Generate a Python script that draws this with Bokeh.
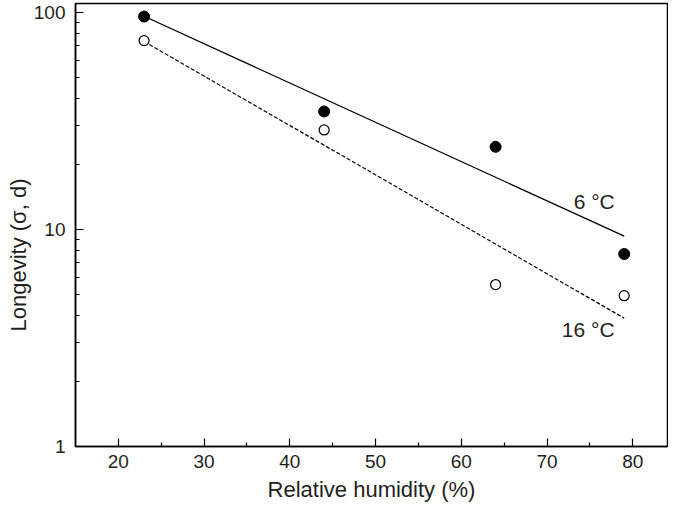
from bokeh.plotting import figure
from bokeh.models import FixedTicker, CustomJSTickFormatter, Label, Range1d, Title
from bokeh.embed import file_html
from bokeh.resources import INLINE

# data
humidity = [23, 44, 64, 79]
longevity_6c = [95.5, 34.9, 24.0, 7.7]
longevity_16c = [74.0, 28.7, 5.57, 4.95]
fit_x = [23, 79]
fit_6c = [95.8, 9.3]
fit_16c = [73.3, 3.9]
x_ticks = [20, 30, 40, 50, 60, 70, 80]
x_minor = [25, 35, 45, 55, 65, 75]
y_ticks = [1, 10, 100]
y_minor = [2, 3, 4, 5, 6, 7, 8, 9, 20, 30, 40, 50, 60, 70, 80, 90]
x_title = "Relative humidity (%)"
y_title = "Longevity (σ, d)"

FONT = "Liberation Sans"
TXT = "#231f20"

p = figure(width=668, height=505, y_axis_type="log",
           x_range=Range1d(15, 84.05), y_range=Range1d(1, 109.7),
           output_backend="svg", toolbar_location=None,
           min_border_left=75, min_border_right=1, min_border_top=3, min_border_bottom=59)
p.grid.visible = False
p.outline_line_color = "black"
p.outline_line_width = 1.5
p.background_fill_color = "white"
p.border_fill_color = "white"

for ax in (p.xaxis, p.yaxis):
    ax.axis_line_color = "black"
    ax.axis_line_width = 1.5
    ax.major_tick_line_color = "black"
    ax.minor_tick_line_color = "black"
    ax.major_tick_line_width = 1.2
    ax.minor_tick_line_width = 1.2
    ax.major_tick_in = 8
    ax.major_tick_out = 0
    ax.minor_tick_in = 4
    ax.minor_tick_out = 0
    ax.major_label_text_font = FONT
    ax.major_label_text_font_size = "19px"
    ax.major_label_text_color = TXT
    ax.axis_label_text_font = FONT
    ax.axis_label_text_font_size = "22px"
    ax.axis_label_text_font_style = "normal"
    ax.axis_label_text_color = TXT

p.xaxis.ticker = FixedTicker(ticks=x_ticks, minor_ticks=x_minor)
p.yaxis.ticker = FixedTicker(ticks=y_ticks, minor_ticks=y_minor)
p.yaxis.formatter = CustomJSTickFormatter(code="return String(Math.round(tick));")
p.xaxis.major_label_standoff = 8
p.yaxis.major_label_standoff = 10
p.xaxis.axis_label = x_title
p.xaxis.axis_label_standoff = 6

ytitle = Title(text=y_title, text_font=FONT, text_font_size="22px", text_font_style="normal",
               text_color=TXT, align="left", offset=115, standoff=0)
p.add_layout(ytitle, "left")

p.line(fit_x, fit_6c, line_color="black", line_width=1.3)
p.line(fit_x, fit_16c, line_color="black", line_width=1.2, line_dash="4 2")
p.scatter(humidity, longevity_6c, size=11, fill_color="black", line_color="black")
p.scatter(humidity, longevity_16c, size=10, fill_color="white", line_color="black", line_width=1.2)

p.add_layout(Label(x=75.5, y=13.4, text="6 °C", text_font=FONT, text_font_size="21px",
                   text_color=TXT, text_align="center", text_baseline="middle"))
p.add_layout(Label(x=74.8, y=3.46, text="16 °C", text_font=FONT, text_font_size="21px",
                   text_color=TXT, text_align="center", text_baseline="middle"))

open("out.html", "w").write(file_html(p, INLINE))
